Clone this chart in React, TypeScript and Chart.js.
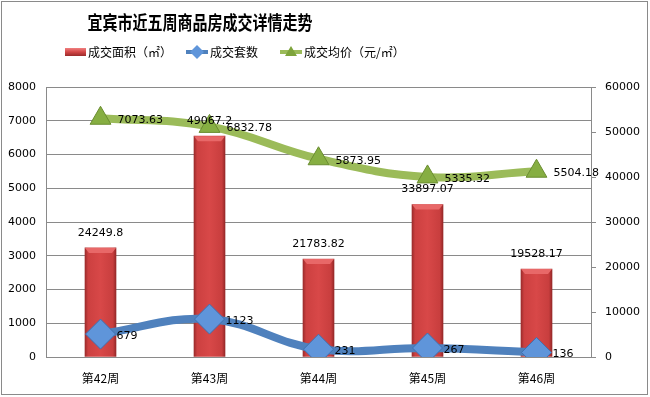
import React, { useEffect, useRef } from "react";
import { Chart, registerables } from "chart.js";

Chart.register(...registerables);

const titleText = "宜宾市近五周商品房成交详情走势";
const categories = ["第42周", "第43周", "第44周", "第45周", "第46周"];
const seriesNames = ["成交面积（㎡）", "成交套数", "成交均价（元/㎡）"];
const areaValues = [24249.8, 49067.2, 21783.82, 33897.07, 19528.17];
const unitValues = [679, 1123, 231, 267, 136];
const priceValues = [7073.63, 6832.78, 5873.95, 5335.32, 5504.18];
const leftAxis = [0, 8000, 1000];
const rightAxis = [0, 60000, 10000];

const CJK = '"Noto Sans CJK SC", "Noto Sans", sans-serif';
const NUM = '"DejaVu Sans", sans-serif';

const decorPlugin = {
  id: "decor",
  beforeDraw(chart: any) {
    const ctx = chart.ctx;
    ctx.save();
    ctx.fillStyle = "#ffffff";
    ctx.fillRect(0, 0, chart.width, chart.height);
    ctx.strokeStyle = "#8a8a8a";
    ctx.lineWidth = 1;
    ctx.strokeRect(1.5, 1.5, chart.width - 4, chart.height - 4);
    ctx.restore();
  },
  afterDatasetDraw(chart: any, args: any) {
    if (args.index !== 0) return;
    const ctx = chart.ctx;
    const meta = chart.getDatasetMeta(0);
    ctx.save();
    meta.data.forEach((el: any) => {
      const w = el.width;
      const l = el.x - w / 2;
      const r = el.x + w / 2;
      const t = el.y;
      ctx.fillStyle = "#e86868";
      ctx.beginPath();
      ctx.moveTo(l, t);
      ctx.lineTo(r, t);
      ctx.lineTo(r - 4, t + 5);
      ctx.lineTo(l + 4, t + 5);
      ctx.closePath();
      ctx.fill();
    });
    ctx.restore();
  },
  afterDraw(chart: any) {
    const ctx = chart.ctx;
    ctx.save();
    ctx.fillStyle = "#000";
    ctx.font = `bold 15px ${CJK}`;
    ctx.textAlign = "center";
    ctx.textBaseline = "middle";
    ctx.save();
    ctx.translate(200, 23);
    ctx.scale(1, 1.25);
    ctx.fillText(titleText, 0, 0);
    ctx.restore();

    ctx.font = `12px ${CJK}`;
    ctx.textAlign = "left";
    const ly = 52;
    const g = ctx.createLinearGradient(0, ly - 4, 0, ly + 4);
    g.addColorStop(0, "#f08080");
    g.addColorStop(0.5, "#d24646");
    g.addColorStop(1, "#9a2b2b");
    ctx.fillStyle = g;
    ctx.fillRect(65, ly - 4, 21, 8);
    ctx.fillStyle = "#000";
    ctx.fillText(seriesNames[0], 88, ly);

    ctx.strokeStyle = "#4f81bd";
    ctx.lineWidth = 4;
    ctx.beginPath();
    ctx.moveTo(186, ly);
    ctx.lineTo(208, ly);
    ctx.stroke();
    ctx.fillStyle = "#5f95da";
    ctx.beginPath();
    ctx.moveTo(197, ly - 7);
    ctx.lineTo(204, ly);
    ctx.lineTo(197, ly + 7);
    ctx.lineTo(190, ly);
    ctx.closePath();
    ctx.fill();
    ctx.fillStyle = "#000";
    ctx.fillText(seriesNames[1], 210, ly);

    ctx.strokeStyle = "#9bbb59";
    ctx.beginPath();
    ctx.moveTo(280, ly);
    ctx.lineTo(302, ly);
    ctx.stroke();
    ctx.fillStyle = "#7ea43c";
    ctx.beginPath();
    ctx.moveTo(291, ly - 6);
    ctx.lineTo(297, ly + 4);
    ctx.lineTo(285, ly + 4);
    ctx.closePath();
    ctx.fill();
    ctx.fillStyle = "#000";
    ctx.fillText(seriesNames[2], 304, ly);

    ctx.font = `11px ${NUM}`;
    ctx.fillStyle = "#000";
    const barMeta = chart.getDatasetMeta(0);
    ctx.textAlign = "center";
    barMeta.data.forEach((el: any, i: number) => {
      ctx.fillText(String(areaValues[i]), el.x, el.y - 15);
    });
    ctx.textAlign = "left";
    const unitMeta = chart.getDatasetMeta(1);
    unitMeta.data.forEach((el: any, i: number) => {
      ctx.fillText(String(unitValues[i]), el.x + 16, el.y + 2);
    });
    const priceMeta = chart.getDatasetMeta(2);
    priceMeta.data.forEach((el: any, i: number) => {
      ctx.fillText(String(priceValues[i]), el.x + 17, el.y + 2);
    });
    ctx.restore();
  },
};

export default function App() {
  const ref = useRef<HTMLCanvasElement>(null);
  useEffect(() => {
    document.body.style.margin = "0";
    const canvas = ref.current!;
    const chart = new Chart(canvas, {
      type: "bar",
      data: {
        labels: categories,
        datasets: [
          {
            type: "bar",
            label: seriesNames[0],
            data: areaValues,
            yAxisID: "y1",
            order: 3,
            barThickness: 31,
            backgroundColor: (c: any) => {
              const xs = c.chart.scales.x;
              if (!xs || c.dataIndex == null) return "#d44444";
              const x = xs.getPixelForValue(c.dataIndex);
              if (!Number.isFinite(x)) return "#d44444";
              const gr = c.chart.ctx.createLinearGradient(x - 15.5, 0, x + 15.5, 0);
              gr.addColorStop(0, "#9c2c2c");
              gr.addColorStop(0.1, "#cc4040");
              gr.addColorStop(0.5, "#d84848");
              gr.addColorStop(0.9, "#c83e3e");
              gr.addColorStop(1, "#962828");
              return gr;
            },
            borderWidth: 0,
          } as any,
          {
            type: "line",
            label: seriesNames[1],
            data: unitValues,
            yAxisID: "y",
            order: 1,
            borderColor: "#4f81bd",
            borderWidth: 8,
            tension: 0.4,
            pointStyle: "rectRot",
            pointRadius: 15,
            pointBackgroundColor: "#5f95da",
            pointBorderColor: "#3f70b0",
            pointBorderWidth: 1,
          } as any,
          {
            type: "line",
            label: seriesNames[2],
            data: priceValues,
            yAxisID: "y",
            order: 2,
            borderColor: "#9bbb59",
            borderWidth: 8,
            tension: 0.4,
            pointStyle: "triangle",
            pointRadius: 12,
            pointBackgroundColor: "#86ae42",
            pointBorderColor: "#6a8d30",
            pointBorderWidth: 1,
          } as any,
        ],
      },
      options: {
        responsive: false,
        animation: false,
        layout: { padding: { top: 87, left: 0, right: 0, bottom: 0 } },
        plugins: {
          legend: { display: false },
          title: { display: false },
          tooltip: { enabled: false },
        },
        scales: {
          x: {
            offset: true,
            grid: { display: false },
            border: { display: true, color: "#8a8a8a" },
            ticks: { color: "#000", font: { family: CJK, size: 12 }, padding: 6 },
            afterFit: (s: any) => {
              s.height = 40;
            },
          },
          y: {
            position: "left",
            min: leftAxis[0],
            max: leftAxis[1],
            ticks: {
              stepSize: leftAxis[2],
              color: "#000",
              font: { family: NUM, size: 11 },
              padding: 10,
              callback: (v: any) => String(v),
            },
            grid: { color: "#8a8a8a", drawTicks: false },
            border: { display: true, color: "#8a8a8a" },
            afterFit: (s: any) => {
              s.width = 46;
            },
          },
          y1: {
            position: "right",
            min: rightAxis[0],
            max: rightAxis[1],
            ticks: {
              stepSize: rightAxis[2],
              color: "#000",
              font: { family: NUM, size: 11 },
              padding: 9,
              callback: (v: any) => String(v),
            },
            grid: { drawOnChartArea: false, drawTicks: true, tickLength: 5, color: "#8a8a8a" },
            border: { display: true, color: "#8a8a8a" },
            afterFit: (s: any) => {
              s.width = 59;
            },
          },
        },
      },
      plugins: [decorPlugin],
    });
    return () => chart.destroy();
  }, []);
  return <canvas ref={ref} width={650} height={397} style={{ display: "block" }} />;
}
